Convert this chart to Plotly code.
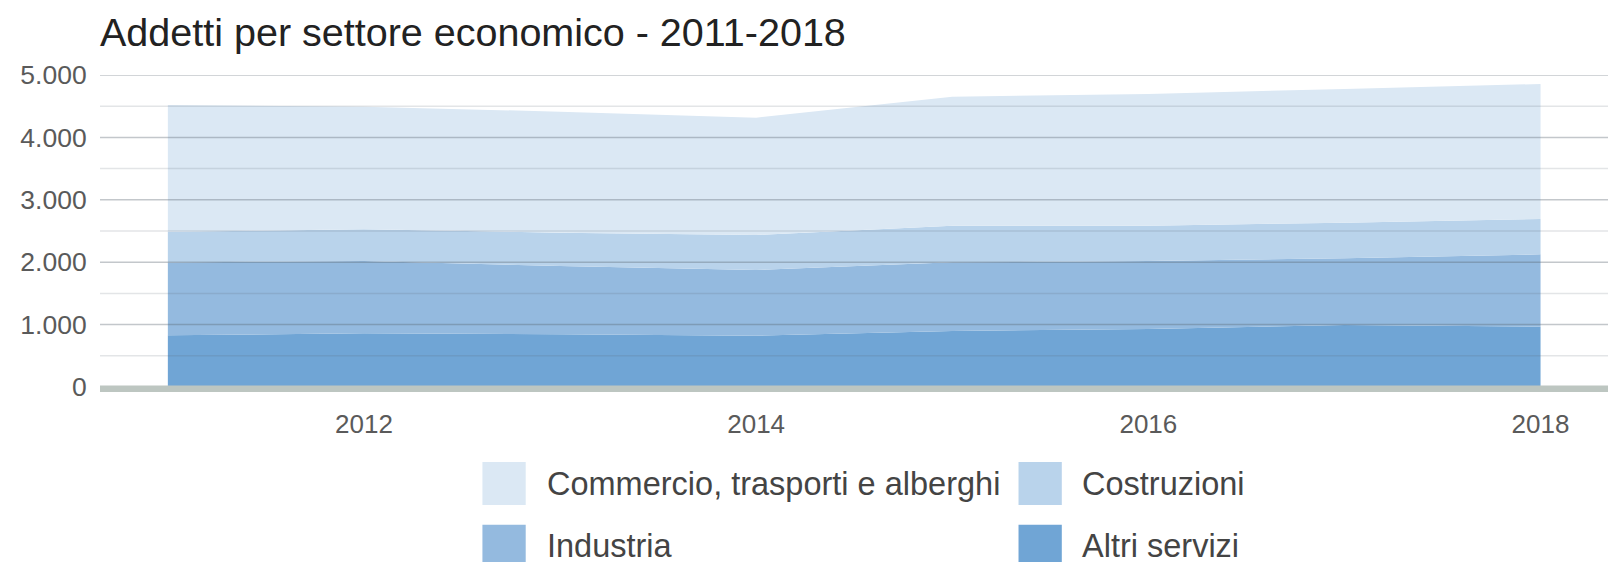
import plotly.graph_objects as go

# ---- data ----
years = [2011, 2012, 2013, 2014, 2015, 2016, 2017, 2018]
altri_servizi = [829, 860, 844, 823, 897, 930, 994, 967]
industria = [1166, 1159, 1095, 1052, 1101, 1089, 1068, 1159]
costruzioni = [491, 508, 534, 561, 588, 567, 572, 566]
commercio = [2033, 1966, 1939, 1880, 2067, 2110, 2142, 2164]

series_names = ["Altri servizi", "Industria", "Costruzioni", "Commercio, trasporti e alberghi"]
series_values = [altri_servizi, industria, costruzioni, commercio]
series_colors = ["#70a5d5", "#94badf", "#b9d3eb", "#dbe8f4"]

legend_order = ["Commercio, trasporti e alberghi", "Costruzioni", "Industria", "Altri servizi"]

y_ticks = [0, 1000, 2000, 3000, 4000, 5000]
y_minor = [500, 1500, 2500, 3500, 4500]
x_ticks = [2012, 2014, 2016, 2018]

title_text = "Addetti per settore economico - 2011-2018"
FONT = "Liberation Sans, Arial, sans-serif"

fig = go.Figure()
for name, vals, col in zip(series_names, series_values, series_colors):
    fig.add_trace(go.Scatter(
        x=years, y=vals, name=name, mode="lines",
        stackgroup="one", line=dict(width=0, color=col),
        fillcolor=col, showlegend=False,
        hovertemplate="%{x}: %{y:,}<extra>" + name + "</extra>",
    ))

shapes = []
# gridlines drawn over the areas (visible through them as in the reference)
for v in y_ticks[1:]:
    shapes.append(dict(type="line", xref="paper", yref="y", x0=0, x1=1, y0=v, y1=v,
                       line=dict(color="rgba(90,100,110,0.36)", width=1.5), layer="above"))
for v in y_minor:
    shapes.append(dict(type="line", xref="paper", yref="y", x0=0, x1=1, y0=v, y1=v,
                       line=dict(color="rgba(90,100,110,0.17)", width=1.5), layer="above"))
# thick baseline at 0 (paper-referenced so it is not clipped by the plot area)
shapes.append(dict(type="line", xref="paper", yref="paper", x0=0, x1=1,
                   ysizemode="pixel", yanchor=0, y0=-1.7, y1=-1.7,
                   line=dict(color="#bdc6c1", width=6.5), layer="above"))

# custom legend (large square swatches, 2 columns x 2 rows)
color_of = dict(zip(series_names, series_colors))
col_x = [0.2536, 0.6091]
sw_w = 0.0287
text_x = [0.2951, 0.6499]
row_top = [-0.2404, -0.4413]
sw_h = 0.1378
annotations = []
for i, name in enumerate(legend_order):
    r, c = divmod(i, 2)
    shapes.append(dict(type="rect", xref="paper", yref="paper",
                       x0=col_x[c], x1=col_x[c] + sw_w,
                       y0=row_top[r] - sw_h, y1=row_top[r],
                       fillcolor=color_of[name], line=dict(width=0)))
    annotations.append(dict(xref="paper", yref="paper", x=text_x[c],
                            y=row_top[r] - sw_h / 2, text=name, showarrow=False,
                            xanchor="left", yanchor="middle",
                            font=dict(family=FONT, size=32.5, color="#444444")))

fig.update_layout(
    width=1613, height=562,
    margin=dict(l=100, r=5, t=75, b=175),
    paper_bgcolor="white", plot_bgcolor="white",
    separators=",.",
    title=dict(text=title_text, x=100 / 1613, xanchor="left",
               y=1 - 32 / 562, yanchor="middle",
               font=dict(family=FONT, size=39.5, color="#222222")),
    xaxis=dict(range=[2010.654, 2018.344], tickvals=x_ticks, showgrid=False,
               zeroline=False, showline=False, ticks="outside", ticklen=14,
               tickcolor="rgba(0,0,0,0)",
               tickfont=dict(family=FONT, size=26, color="#5a5a5a")),
    yaxis=dict(range=[0, 5000], tickvals=y_ticks, tickformat=",d", showgrid=False,
               zeroline=False, showline=False, ticks="outside", ticklen=7,
               tickcolor="rgba(0,0,0,0)",
               tickfont=dict(family=FONT, size=26.5, color="#5a5a5a")),
    shapes=shapes,
    annotations=annotations,
    showlegend=False,
)

fig.write_html("out.html", config={"displayModeBar": False},
               post_script="document.body.style.margin='0';document.body.style.overflow='hidden';")
